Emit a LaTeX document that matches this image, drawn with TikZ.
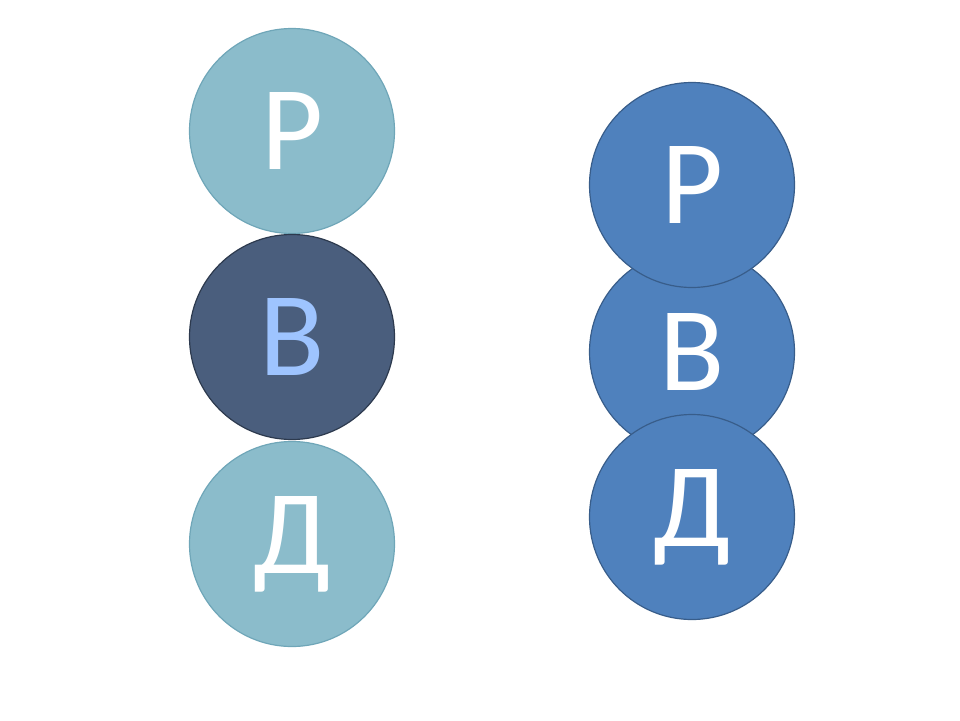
\documentclass[tikz,border=0pt]{standalone}
\usepackage{xcolor}
\usepackage{fontspec}
\setmainfont{Carlito}
\usepackage{tikz}

\definecolor{tealfill}{HTML}{8BBCCB}
\definecolor{tealline}{HTML}{6FA6B8}
\definecolor{darkfill}{HTML}{4A5E7D}
\definecolor{darkline}{HTML}{2D3A4E}
\definecolor{paleletter}{HTML}{9EC4FF}
\definecolor{bluefill}{HTML}{4F81BD}
\definecolor{blueline}{HTML}{385D8A}

\begin{document}
\begin{tikzpicture}[x=1pt, y=-1pt,
		letter/.style={circle, minimum size=205pt, inner sep=0pt, line width=1.2pt, font=\fontsize{120}{120}\selectfont, text=white},
		lightball/.style={letter, fill=tealfill, draw=tealline},
		darkball/.style={letter, fill=darkfill, draw=darkline, text=paleletter},
		blueball/.style={letter, fill=bluefill, draw=blueline}]
		\useasboundingbox (0,0) rectangle (960,720);

		% left column
		\node[lightball] at (292, 131) (lp) {Р};
		\node[darkball] at (292, 337) (lv) {В};
		\node[lightball] at (292, 544) (ld) {Д};

		% right column, middle one goes under
		\node[blueball] at (692, 352) (rv) {В};
		\node[blueball] at (692, 185) (rp) {Р};
		\node[blueball] at (692, 517) (rd) {Д};
	\end{tikzpicture}
\end{document}
